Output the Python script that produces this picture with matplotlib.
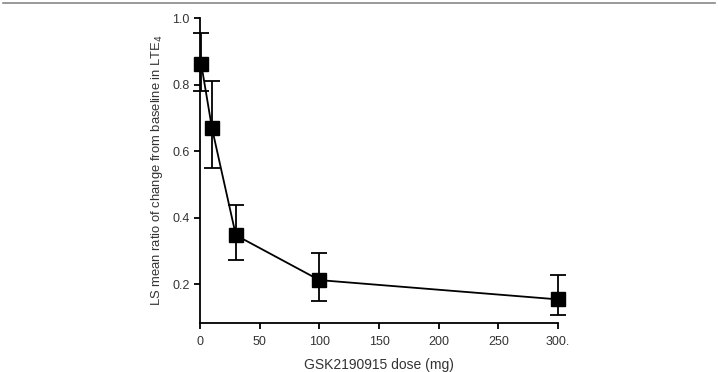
import matplotlib
matplotlib.use("Agg")
import matplotlib.pyplot as plt
from matplotlib.lines import Line2D

dose = [1, 10, 30, 100, 300]
ratio = [0.862, 0.669, 0.347, 0.212, 0.154]
upper = [0.955, 0.812, 0.437, 0.293, 0.226]
lower = [0.782, 0.548, 0.272, 0.150, 0.106]
xticks = [0, 50, 100, 150, 200, 250, 300]
xticklabels = ["0", "50", "100", "150", "200", "250", "300."]
yticks = [0.2, 0.4, 0.6, 0.8, 1.0]

plt.rcParams['font.family'] = ['Liberation Sans', 'DejaVu Sans']

fig = plt.figure(figsize=(7.18, 3.72), dpi=100)
ax = fig.add_axes([0.2786, 0.1317, 0.4986, 0.8199])

err_lo = [r - l for r, l in zip(ratio, lower)]
err_hi = [u - r for r, u in zip(ratio, upper)]
ax.errorbar(dose, ratio, yerr=[err_lo, err_hi], color='black', lw=1.3,
            marker='s', markersize=10.5, capsize=6, capthick=1.3,
            elinewidth=1.3, clip_on=False, zorder=3)

ax.set_xlim(0, 300)
ax.set_ylim(0.083, 1.0)
ax.set_xticks(xticks)
ax.set_xticklabels(xticklabels)
ax.set_yticks(yticks)
ax.set_yticklabels(["0.2", "0.4", "0.6", "0.8", "1.0"])
ax.spines['top'].set_visible(False)
ax.spines['right'].set_visible(False)
for s in ['left', 'bottom']:
    ax.spines[s].set_linewidth(1.3)
ax.tick_params(direction='out', length=4, width=1.3, labelsize=9,
               colors='black', labelcolor='#333333')
ax.tick_params(axis='x', pad=5.5)

ax.set_xlabel('GSK2190915 dose (mg)', fontsize=10, color='#333333', labelpad=7)
ax.set_ylabel('LS mean ratio of change from baseline in LTE$_4$', fontsize=9.4,
              color='#333333', labelpad=5)

fig.add_artist(Line2D([0.004, 0.996], [0.993, 0.993], color='#888888', lw=1.2))

fig.savefig('out.png', dpi=100)
